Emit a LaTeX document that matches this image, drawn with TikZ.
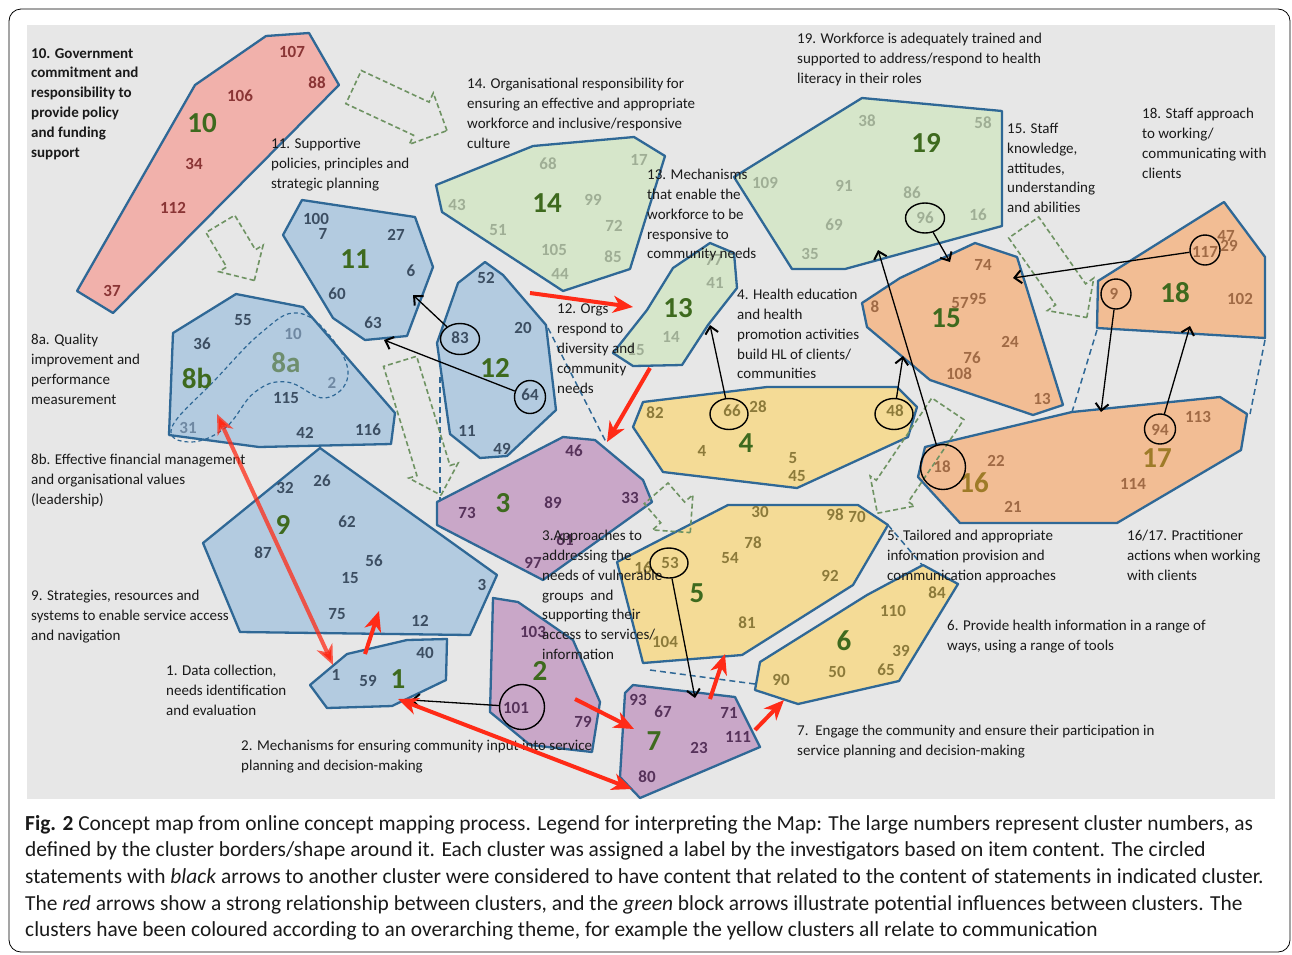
\documentclass[tikz,border=0pt]{standalone}
\usepackage{fontspec}
\setmainfont{Carlito}
\usetikzlibrary{arrows.meta,shapes.geometric,shapes.arrows}

\definecolor{panel}{HTML}{E7E7E7}
\definecolor{ink}{HTML}{1A1A1A}
\definecolor{edge}{HTML}{2F6896}
\definecolor{fblue}{HTML}{B3CBE0}
\definecolor{fgreen}{HTML}{D6E6CA}
\definecolor{forange}{HTML}{F2BD94}
\definecolor{fyellow}{HTML}{F4DB96}
\definecolor{fpurple}{HTML}{C9A7C8}
\definecolor{fpink}{HTML}{F1B1AB}
\definecolor{kgreen}{HTML}{3E6A1E}
\definecolor{kgold}{HTML}{9E7B28}
\definecolor{kgrey}{HTML}{6E8E6E}
\definecolor{tblue}{HTML}{3C4E62}
\definecolor{tlblue}{HTML}{6F88A2}
\definecolor{tgreen}{HTML}{9FAE95}
\definecolor{torange}{HTML}{A06A45}
\definecolor{tyellow}{HTML}{8C7A3A}
\definecolor{tpurple}{HTML}{56325A}
\definecolor{tpink}{HTML}{8A3535}
\definecolor{rarrow}{HTML}{FF2B17}
\definecolor{garrow}{HTML}{6F9363}

\begin{document}
\begin{tikzpicture}[x=1pt,y=-1pt,
  cluster/.style={draw=edge,line width=2.3pt,line join=round},
  num/.style={font=\bfseries\fontsize{17}{17}\selectfont,inner sep=0pt},
  big/.style={font=\bfseries\fontsize{29}{29}\selectfont,inner sep=0pt,text=kgreen},
  lbl/.style={font=\fontsize{15}{19.8}\selectfont,align=left,anchor=north west,inner sep=0pt,text=ink},
  ring/.style={ellipse,draw=black,line width=1.4pt,inner sep=0pt},
  blk/.style={draw=black,line width=1.3pt,-{Straight Barb[length=7pt,width=13pt,line width=2pt]}},
  strong/.style={draw=rarrow,line width=4pt,-{Stealth[length=20pt,width=17pt,inset=6pt]}},
  link/.style={draw=edge,line width=1.5pt,dash pattern=on 6pt off 4pt},
  flow/.style={single arrow,draw=garrow,line width=1.6pt,dash pattern=on 5pt off 3pt,inner xsep=0pt,minimum width=0pt}]
\useasboundingbox (0,0) rectangle (1292,954);
\draw[rounded corners=12pt,line width=0.8pt] (9,9) rectangle (1290,952);
\fill[panel] (27,25) rectangle (1275,799);

\draw[cluster,fill=fpink] (77,291) -- (195,85) -- (266,36) -- (309,33) -- (339,85) -- (113,313) -- cycle;
\draw[cluster,fill=fblue] (302,200) -- (415,217) -- (433,267) -- (407,336) -- (365,340) -- (333,318) -- (283,235) -- cycle;
\draw[cluster,fill=fblue] (173,333) -- (236,294) -- (303,307) -- (395,413) -- (391,444) -- (259,447) -- (169,435) -- cycle;
\draw[cluster,fill=fblue] (485,262) -- (503,275) -- (546,325) -- (556,410) -- (507,456) -- (480,458) -- (450,434) -- (437,343) -- (458,283) -- cycle;
\draw[cluster,fill=fblue] (320,448) -- (497,575) -- (470,635) -- (240,632) -- (203,543) -- cycle;
\draw[cluster,fill=fblue] (310,685) -- (347,654) -- (407,640) -- (447,639) -- (446,680) -- (392,706) -- (327,708) -- cycle;
\draw[cluster,fill=fgreen] (436,185) -- (533,146) -- (634,137) -- (665,156) -- (630,269) -- (563,291) -- (442,212) -- cycle;
\draw[cluster,fill=fgreen] (710,243) -- (734,253) -- (737,288) -- (708,325) -- (682,365) -- (633,366) -- (613,353) -- (647,310) -- (673,268) -- cycle;
\draw[cluster,fill=fgreen] (734,177) -- (862,98) -- (1002,111) -- (1002,226) -- (845,269) -- (792,269) -- cycle;
\draw[cluster,fill=forange] (975,243) -- (1017,257) -- (1063,405) -- (1033,415) -- (930,380) -- (867,327) -- (862,303) -- (900,278) -- cycle;
\draw[cluster,fill=forange] (1224,202) -- (1265,257) -- (1265,338) -- (1097,328) -- (1098,281) -- cycle;
\draw[cluster,fill=forange] (925,447) -- (1072,412) -- (1220,397) -- (1247,414) -- (1241,450) -- (1117,523) -- (960,523) -- (918,477) -- cycle;
\draw[cluster,fill=fyellow] (643,402) -- (767,387) -- (897,387) -- (917,407) -- (908,437) -- (797,488) -- (663,472) -- (633,427) -- cycle;
\draw[cluster,fill=fyellow] (728,505) -- (858,505) -- (888,525) -- (853,585) -- (742,655) -- (643,663) -- (617,562) -- cycle;
\draw[cluster,fill=fyellow] (923,565) -- (958,584) -- (899,681) -- (798,704) -- (755,690) -- (760,662) -- (867,595) -- cycle;
\draw[cluster,fill=fpurple] (437,502) -- (563,437) -- (595,440) -- (643,480) -- (652,502) -- (543,580) -- (437,525) -- cycle;
\draw[cluster,fill=fpurple] (493,598) -- (518,602) -- (573,640) -- (600,702) -- (592,752) -- (530,745) -- (490,712) -- cycle;
\draw[cluster,fill=fpurple] (633,685) -- (735,697) -- (760,747) -- (640,798) -- (620,777) -- (625,693) -- cycle;

\draw[edge,line width=1.2pt,dash pattern=on 4pt off 3pt] plot[smooth cycle,tension=0.7] coordinates {(172,427) (215,380) (262,332) (297,313) (330,336) (348,375) (325,398) (287,382) (255,392) (225,428) (190,442)};

\draw[link] (440,377) -- (440,501);
\draw[link] (548,328) -- (606,442);
\draw[link] (650,670) -- (755,684);
\draw[link] (888,525) -- (923,566);
\draw[link] (1097,330) -- (1072,412);
\draw[link] (1265,340) -- (1250,414);

\node[flow,minimum height=103pt,inner ysep=17.5pt,single arrow head extend=10pt,rotate=-25] (g1) at (392,105) {};
\node[flow,minimum height=66pt,inner ysep=16pt,single arrow head extend=9pt,rotate=-59] (g2) at (233,245) {};
\node[flow,minimum height=140pt,inner ysep=16.5pt,single arrow head extend=8.5pt,rotate=-73] (g3) at (418,420) {};
\node[flow,minimum height=52pt,inner ysep=15pt,single arrow head extend=11pt,rotate=-49] (g4) at (668,507) {};
\node[flow,minimum height=126pt,inner ysep=18.5pt,single arrow head extend=7.5pt,rotate=-124] (g5) at (918,453) {};
\node[flow,minimum height=110pt,inner ysep=17.5pt,single arrow head extend=10pt,rotate=-55] (g6) at (1050,265) {};

\foreach \t/\x/\y in {107/292/52, 88/317/83, 106/240/96, 34/194/164, 112/173/208, 37/112/291}
  \node[num,text=tpink] (p\t) at (\x,\y) {\t};
\foreach \t/\x/\y in {100/316/219, 7/323/234, 27/396/235, 6/411/271, 60/337/294, 63/373/323}
  \node[num,text=tblue] (s\t) at (\x,\y) {\t};
\foreach \t/\x/\y in {55/243/320, 36/202/344, 115/286/398, 42/305/433, 116/368/430}
  \node[num,text=tblue] (q\t) at (\x,\y) {\t};
\foreach \t/\x/\y in {10/293/334, 2/332/383, 31/188/428}
  \node[num,text=tlblue] (q\t) at (\x,\y) {\t};
\foreach \t/\x/\y in {52/486/278, 20/523/328, 83/460/338, 64/530/395, 11/467/431, 49/502/449}
  \node[num,text=tblue] (u\t) at (\x,\y) {\t};
\foreach \t/\x/\y in {32/285/488, 26/322/481, 62/347/522, 87/263/553, 56/374/561, 15/350/578, 75/337/614, 12/420/621, 3/482/585}
  \node[num,text=tblue] (v\t) at (\x,\y) {\t};
\foreach \t/\x/\y in {1/336/675, 59/368/681, 40/425/653}
  \node[num,text=tblue] (w\t) at (\x,\y) {\t};
\foreach \t/\x/\y in {68/548/164, 17/639/160, 43/457/205, 99/593/200, 51/498/230, 72/614/226, 105/554/250, 85/613/257, 44/560/274}
  \node[num,text=tgreen] (e\t) at (\x,\y) {\t};
\foreach \t/\x/\y in {77/714/260, 41/715/283, 14/671/337, 15/636/350}
  \node[num,text=tgreen] (f\t) at (\x,\y) {\t};
\foreach \t/\x/\y in {38/867/121, 58/983/123, 109/765/183, 91/844/186, 86/912/193, 96/925/218, 16/978/215, 69/834/225, 35/810/254}
  \node[num,text=tgreen] (h\t) at (\x,\y) {\t};
\foreach \t/\x/\y in {74/983/265, 8/875/307, 57/960/303, 95/978/299, 24/1010/342, 76/972/358, 108/959/374, 13/1042/399}
  \node[num,text=torange] (o\t) at (\x,\y) {\t};
\foreach \t/\x/\y in {47/1226/236, 29/1229/246, 117/1205/252, 9/1114/294, 102/1240/299}
  \node[num,text=torange] (m\t) at (\x,\y) {\t};
\foreach \t/\x/\y in {18/942/467, 22/996/461, 21/1013/507, 113/1198/417, 94/1160/430, 114/1133/484}
  \node[num,text=torange] (j\t) at (\x,\y) {\t};
\foreach \t/\x/\y in {82/655/413, 66/732/411, 28/758/407, 48/895/411, 4/702/451, 5/793/458, 45/797/476}
  \node[num,text=tyellow] (b\t) at (\x,\y) {\t};
\foreach \t/\x/\y in {30/760/512, 98/835/515, 70/857/517, 78/753/543, 54/730/558, 53/670/563, 16/643/568, 92/830/576, 81/747/623, 104/665/642}
  \node[num,text=tyellow] (y\t) at (\x,\y) {\t};
\foreach \t/\x/\y in {84/937/593, 110/893/611, 39/901/651, 65/886/670, 50/837/672, 90/781/680}
  \node[num,text=tyellow] (z\t) at (\x,\y) {\t};
\foreach \t/\x/\y in {46/574/451, 73/467/513, 89/553/503, 33/630/498, 97/533/563, 61/565/540}
  \node[num,text=tpurple] (k\t) at (\x,\y) {\t};
\foreach \t/\x/\y in {103/533/632, 101/516/708, 79/583/722}
  \node[num,text=tpurple] (d\t) at (\x,\y) {\t};
\foreach \t/\x/\y in {93/638/700, 67/663/712, 71/729/713, 111/738/737, 23/699/748, 80/647/777}
  \node[num,text=tpurple] (r\t) at (\x,\y) {\t};

\foreach \t/\x/\y in {10/202/123, 11/355/259, 12/495/368, 9/283/525, 1/398/679, 14/547/203, 13/678/308, 19/926/143, 15/946/318, 18/1175/293, 4/746/443, 5/697/593, 6/844/641, 3/503/503, 2/540/671, 7/654/741, 8b/197/378}
  \node[big] (k\t) at (\x,\y) {\t};
\node[big,text=kgrey] (k8a) at (286,363) {8a};
\node[big,text=kgold] (k16) at (974,483) {16};
\node[big,text=kgold] (k17) at (1157,458) {17};

\node[lbl,font=\bfseries\fontsize{15}{19.8}\selectfont] (l10) at (31,48) {10. Government\\commitment and\\responsibility to\\provide policy\\and funding\\support};
\node[lbl] (l11) at (271,138) {11. Supportive\\policies, principles and\\strategic planning};
\node[lbl] (l14) at (467,78) {14. Organisational responsibility for\\ensuring an effective and appropriate\\workforce and inclusive/responsive\\culture};
\node[lbl] (l13) at (647,169) {13. Mechanisms\\that enable the\\workforce to be\\responsive to\\community needs};
\node[lbl] (l19) at (797,33) {19. Workforce is adequately trained and\\supported to address/respond to health\\literacy in their roles};
\node[lbl] (l15) at (1007,123) {15. Staff\\knowledge,\\attitudes,\\understanding\\and abilities};
\node[lbl] (l18) at (1142,108) {18. Staff approach\\to working/\\communicating with\\clients};
\node[lbl] (l4) at (737,289) {4. Health education\\and health\\promotion activities\\build HL of clients/\\communities};
\node[lbl] (l12) at (557,304) {12. Orgs\\respond to\\diversity and\\community\\needs};
\node[lbl] (l8a) at (31,334) {8a. Quality\\improvement and\\performance\\measurement};
\node[lbl] (l8b) at (31,454) {8b. Effective financial management\\and organisational values\\(leadership)};
\node[lbl] (l9) at (31,590) {9. Strategies, resources and\\systems to enable service access\\and navigation};
\node[lbl] (l1) at (166,665) {1. Data collection,\\needs identification\\and evaluation};
\node[lbl] (l2) at (241,740) {2. Mechanisms for ensuring community input into service\\planning and decision-making};
\node[lbl] (l3) at (542,530) {3.Approaches to\\addressing the\\needs of vulnerable\\groups\ \ and\\supporting their\\access to services/\\information};
\node[lbl] (l5) at (887,530) {5. Tailored and appropriate\\information provision and\\communication approaches};
\node[lbl] (l1617) at (1127,530) {16/17. Practitioner\\actions when working\\with clients};
\node[lbl] (l6) at (947,620) {6. Provide health information in a range of\\ways, using a range of tools};
\node[lbl] (l7) at (797,725) {7.\ \ Engage the community and ensure their participation in\\service planning and decision-making};

\node[ring,minimum width=39pt,minimum height=31pt] (c83) at (460,339) {};
\node[ring,minimum width=31pt,minimum height=33pt] (c64) at (530,397) {};
\node[ring,minimum width=38pt,minimum height=31pt] (c66) at (729,414) {};
\node[ring,minimum width=38pt,minimum height=31pt] (c48) at (894,414) {};
\node[ring,minimum width=39pt,minimum height=30pt] (c96) at (925,218) {};
\node[ring,minimum width=30pt,minimum height=30pt] (c117) at (1205,250) {};
\node[ring,minimum width=30pt,minimum height=30pt] (c9) at (1116,294) {};
\node[ring,minimum width=31pt,minimum height=30pt] (c94) at (1160,429) {};
\node[ring,minimum width=45pt,minimum height=45pt] (c18) at (943,467) {};
\node[ring,minimum width=45pt,minimum height=45pt] (c101) at (522,707) {};
\node[ring,minimum width=38pt,minimum height=30pt] (c53) at (669,563) {};

\coordinate (t11) at (413,295);
\coordinate (t8) at (384,340);
\coordinate (t13) at (710,325);
\coordinate (t15a) at (903,356);
\coordinate (t15b) at (950,262);
\coordinate (t15c) at (1013,278);
\coordinate (t17) at (1101,412);
\coordinate (t18) at (1190,326);
\coordinate (t19) at (878,250);
\coordinate (t7) at (695,698);
\coordinate (t1) at (411,700);
\draw[blk] (c83) -- (t11);
\draw[blk] (c64) -- (t8);
\draw[blk] (c66) -- (t13);
\draw[blk] (c48) -- (t15a);
\draw[blk] (c96) -- (t15b);
\draw[blk] (c117) -- (t15c);
\draw[blk] (c9) -- (t17);
\draw[blk] (c94) -- (t18);
\draw[blk] (c18) -- (t19);
\draw[blk] (c53) -- (t7);
\draw[blk] (c101) -- (t1);

\coordinate (a12) at (530,293);
\coordinate (a13) at (633,307);
\coordinate (b13) at (650,368);
\coordinate (b3) at (607,442);
\coordinate (a8) at (217,414);
\coordinate (a1) at (333,665);
\coordinate (b1) at (398,699);
\coordinate (b7) at (632,789);
\coordinate (c1) at (365,654);
\coordinate (c9top) at (379,611);
\coordinate (a2) at (575,699);
\coordinate (a7) at (634,729);
\coordinate (d7) at (710,699);
\coordinate (d5) at (725,654);
\coordinate (e7) at (755,730);
\coordinate (e6) at (784,700);
\draw[strong] (a12) -- (a13);
\draw[strong] (b13) -- (b3);
\draw[strong,draw opacity=0.75,{Stealth[length=20pt,width=17pt,inset=6pt]}-{Stealth[length=20pt,width=17pt,inset=6pt]}] (a8) -- (a1);
\draw[strong,{Stealth[length=20pt,width=17pt,inset=6pt]}-{Stealth[length=20pt,width=17pt,inset=6pt]}] (b1) -- (b7);
\draw[strong] (c1) -- (c9top);
\draw[strong] (a2) -- (a7);
\draw[strong] (d7) -- (d5);
\draw[strong] (e7) -- (e6);

\node[anchor=north west,inner sep=0pt,align=left,font=\fontsize{21.4}{26.6}\selectfont,text=ink] (cap) at (25,815) {\textbf{Fig. 2} Concept map from online concept mapping process. Legend for interpreting the Map: The large numbers represent cluster numbers, as\\defined by the cluster borders/shape around it. Each cluster was assigned a label by the investigators based on item content. The circled\\statements with \emph{black} arrows to another cluster were considered to have content that related to the content of statements in indicated cluster.\\The \emph{red} arrows show a strong relationship between clusters, and the \emph{green} block arrows illustrate potential influences between clusters. The\\clusters have been coloured according to an overarching theme, for example the yellow clusters all relate to communication};
\end{tikzpicture}
\end{document}
